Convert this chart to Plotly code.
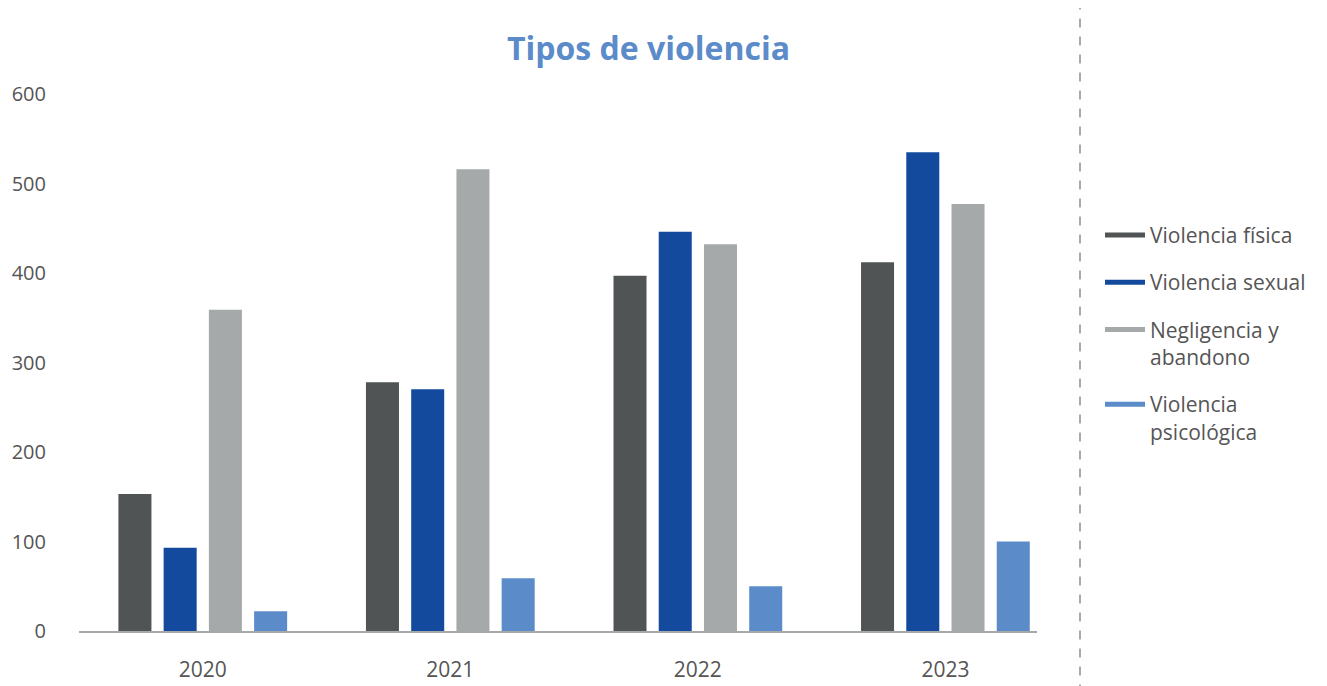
import plotly.graph_objects as go

years = ["2020", "2021", "2022", "2023"]
series_names = ["Violencia física", "Violencia sexual", "Negligencia y<br>abandono", "Violencia<br>psicológica"]
fisica = [153, 278, 397, 412]
sexual = [93, 270, 446, 535]
negligencia = [359, 516, 432, 477]
psicologica = [22, 59, 50, 100]
colors = ["#505455", "#134a9e", "#a6a9aa", "#5b8bc9"]
values = [fisica, sexual, negligencia, psicologica]

fig = go.Figure()
for name, vals, col in zip(series_names, values, colors):
    fig.add_trace(go.Bar(x=years, y=vals, name=name, marker=dict(color=col, line=dict(width=0)),
                         showlegend=False))
for i, (name, col) in enumerate(zip(series_names, colors)):
    fig.add_trace(go.Scatter(x=[None], y=[None], mode="lines", name=name,
                             line=dict(color=col, width=5), legendgroup=f"g{i}", showlegend=True))

L, R, T, B = 71, 298, 86, 63
W, H = 1327, 686
PW = W - L - R
fig.update_layout(
    width=W, height=H,
    margin=dict(l=L, r=R, t=T, b=B, autoexpand=False),
    paper_bgcolor="white", plot_bgcolor="white",
    font=dict(family="Open Sans", color="#555555"),
    barmode="group", bargap=0.269, bargroupgap=0.27,
    legend=dict(x=(1100 - 8 - L) / PW, xanchor="left", y=0.775, yanchor="top", valign="top",
                font=dict(size=21, color="#555555"), tracegroupgap=17, itemwidth=40),
    annotations=[dict(text="<b>Tipos de violencia</b>", xref="paper",
                      x=(648 - 8 - L) / PW, xanchor="center", y=1, yref="paper",
                      showarrow=False, font=dict(size=32, color="#5b8bc9"),
                      yanchor="bottom", yshift=23)],
    shapes=[dict(type="line", xref="paper", yref="paper",
                 x0=(1080 - 8 - L) / PW, x1=(1080 - 8 - L) / PW, y0=-0.15, y1=1.2,
                 line=dict(color="#aaaaaa", width=2, dash="dash"))],
)
fig.update_xaxes(type="category", range=[-0.5, 3.37], showline=True, linecolor="#a6a9aa",
                 linewidth=2, showgrid=False, automargin=False,
                 tickfont=dict(size=21, color="#555555"), ticks="", ticklabelstandoff=19)
fig.update_yaxes(range=[0, 600], dtick=100, showgrid=False, zeroline=False, showline=False,
                 automargin=False,
                 tickfont=dict(size=20, color="#555555"), ticks="", ticklabelstandoff=32)
fig.write_html("out.html")
